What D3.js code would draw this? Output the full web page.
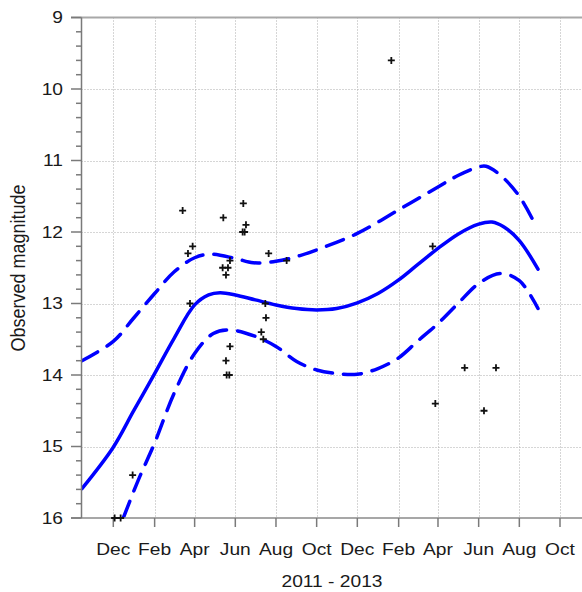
<!DOCTYPE html>
<html>
<head>
<meta charset="utf-8">
<script src="https://cdn.jsdelivr.net/npm/d3@7"></script>
<style>
  html, body { margin: 0; padding: 0; background: #fff; }
  svg { display: block; font-family: "Liberation Sans", Arial, sans-serif; }
</style>
</head>
<body>
<div id="chart"></div>
<script>
// tick labels
const tickMonths = ["2011-12-01", "2012-02-01", "2012-04-01", "2012-06-01", "2012-08-01", "2012-10-01",
                    "2012-12-01", "2013-02-01", "2013-04-01", "2013-06-01", "2013-08-01", "2013-10-01"];
const tickLabels = ["Dec", "Feb", "Apr", "Jun", "Aug", "Oct", "Dec", "Feb", "Apr", "Jun", "Aug", "Oct"];
const magTicks = [9, 10, 11, 12, 13, 14, 15, 16];

// observations [date, magnitude]
const obs = [
  ["2011-12-03", 16.0], ["2011-12-12", 16.0], ["2011-12-30", 15.4],
  ["2012-03-14", 11.7], ["2012-03-22", 12.3], ["2012-03-25", 13.0], ["2012-03-29", 12.2],
  ["2012-05-13", 12.5], ["2012-05-14", 11.8], ["2012-05-18", 13.8], ["2012-05-18", 12.6],
  ["2012-05-19", 14.0], ["2012-05-21", 12.5], ["2012-05-23", 14.0], ["2012-05-24", 12.4],
  ["2012-05-24", 13.6], ["2012-06-12", 12.0], ["2012-06-13", 11.6], ["2012-06-15", 12.0],
  ["2012-06-17", 11.9], ["2012-07-10", 13.4], ["2012-07-13", 13.5], ["2012-07-16", 13.0],
  ["2012-07-17", 13.2], ["2012-07-21", 12.3], ["2012-08-17", 12.4],
  ["2013-01-21", 9.6], ["2013-03-24", 12.2], ["2013-03-28", 14.4],
  ["2013-05-11", 13.9], ["2013-06-09", 14.5], ["2013-06-27", 13.9]
];

// fitted curve and its two limits
const fitMid = [
  ["2011-10-15", 15.59], ["2011-12-01", 15.01], ["2011-12-31", 14.51], ["2012-02-01", 13.98],
  ["2012-03-01", 13.49], ["2012-04-01", 13.02], ["2012-04-22", 12.88], ["2012-05-09", 12.85],
  ["2012-06-01", 12.88], ["2012-07-01", 12.95], ["2012-08-01", 13.02], ["2012-09-01", 13.07],
  ["2012-10-01", 13.09], ["2012-10-31", 13.07], ["2012-12-01", 12.99], ["2013-01-01", 12.86],
  ["2013-02-01", 12.67], ["2013-03-01", 12.46], ["2013-04-01", 12.23], ["2013-05-01", 12.03],
  ["2013-06-01", 11.89], ["2013-06-21", 11.86], ["2013-07-09", 11.93], ["2013-08-01", 12.12],
  ["2013-08-29", 12.52]
];
const fitUpper = [
  ["2011-10-15", 13.80], ["2011-12-01", 13.53], ["2011-12-31", 13.21], ["2012-02-01", 12.86],
  ["2012-03-01", 12.56], ["2012-04-01", 12.36], ["2012-04-25", 12.31], ["2012-06-01", 12.37],
  ["2012-06-28", 12.43], ["2012-08-01", 12.41], ["2012-09-06", 12.33], ["2012-10-01", 12.25],
  ["2012-12-01", 12.02], ["2013-02-01", 11.69], ["2013-04-01", 11.37], ["2013-05-01", 11.21],
  ["2013-06-01", 11.09], ["2013-06-12", 11.08], ["2013-07-03", 11.20], ["2013-08-01", 11.50],
  ["2013-08-24", 11.88]
];
const fitLower = [
  ["2011-12-16", 16.0], ["2012-01-07", 15.48], ["2012-02-01", 14.95], ["2012-03-01", 14.26],
  ["2012-04-01", 13.70], ["2012-04-29", 13.42], ["2012-05-24", 13.37], ["2012-07-01", 13.46],
  ["2012-08-01", 13.60], ["2012-09-01", 13.81], ["2012-10-01", 13.93], ["2012-10-31", 13.98],
  ["2012-12-01", 13.99], ["2013-01-01", 13.91], ["2013-02-01", 13.76], ["2013-03-01", 13.53],
  ["2013-04-01", 13.28], ["2013-05-01", 13.0], ["2013-06-01", 12.72], ["2013-07-03", 12.58],
  ["2013-08-01", 12.68], ["2013-08-29", 13.07]
];

const width = 582, height = 592;
const plotLeft = 81.5, plotTop = 17.5, plotBottom = 518, plotRight = 582;
const parse = d3.utcParse("%Y-%m-%d");
const sx = 1.2; // labels are horizontally stretched

const svg = d3.select("#chart").append("svg")
  .attr("width", width).attr("height", height);

const x = d3.scaleUtc()
  .domain([parse("2011-12-01"), parse("2013-10-01")])
  .range([113.3, 560]);
const y = d3.scaleLinear().domain([9, 16]).range([plotTop, plotBottom]);

// grid
const grid = svg.append("g").attr("stroke", "#adadad").attr("stroke-width", 1)
  .attr("stroke-dasharray", "1,2");
grid.selectAll("line.h").data(magTicks.slice(1, -1)).enter().append("line")
  .attr("x1", plotLeft).attr("x2", plotRight)
  .attr("y1", d => Math.round(y(d)) + 0.5).attr("y2", d => Math.round(y(d)) + 0.5);
grid.selectAll("line.v").data(tickMonths).enter().append("line")
  .attr("x1", d => Math.round(x(parse(d))) + 0.5).attr("x2", d => Math.round(x(parse(d))) + 0.5)
  .attr("y1", plotTop).attr("y2", plotBottom);

// fitted lines
svg.append("clipPath").attr("id", "plot").append("rect")
  .attr("x", plotLeft).attr("y", plotTop)
  .attr("width", plotRight - plotLeft).attr("height", plotBottom - plotTop);

const line = d3.line()
  .x(d => x(parse(d[0])))
  .y(d => y(d[1]))
  .curve(d3.curveCatmullRom.alpha(0.5));

const curves = svg.append("g").attr("clip-path", "url(#plot)")
  .attr("fill", "none").attr("stroke", "#0000ff").attr("stroke-width", 3.5)
  .attr("stroke-linecap", "round").attr("stroke-linejoin", "round");
curves.append("path").attr("d", line(fitMid));
curves.append("path").attr("d", line(fitUpper)).attr("stroke-dasharray", "18,11");
curves.append("path").attr("d", line(fitLower)).attr("stroke-dasharray", "18,11");

// frame and axes
svg.append("line").attr("x1", 71).attr("x2", plotRight).attr("y1", plotTop).attr("y2", plotTop)
  .attr("stroke", "#a8a8a8").attr("stroke-width", 2);
svg.append("line").attr("x1", 71).attr("x2", plotRight).attr("y1", plotBottom).attr("y2", plotBottom)
  .attr("stroke", "#8a8a8a").attr("stroke-width", 1.5);
svg.append("line").attr("x1", plotLeft).attr("x2", plotLeft).attr("y1", plotTop).attr("y2", plotBottom)
  .attr("stroke", "#7a7a7a").attr("stroke-width", 1.5);

// y ticks, minor every 0.2
svg.append("g").selectAll("line").data(y.ticks(35)).enter().append("line")
  .attr("x1", d => Math.abs(d - Math.round(d)) < 1e-6 ? 71 : 76)
  .attr("x2", plotLeft)
  .attr("y1", d => y(d)).attr("y2", d => y(d))
  .attr("stroke", "#7a7a7a").attr("stroke-width", 1.5);

svg.append("g").selectAll("text").data(magTicks).enter().append("text")
  .attr("transform", d => `translate(63,${y(d)}) scale(${sx},1)`)
  .attr("dy", "0.36em").attr("text-anchor", "end")
  .attr("font-size", 16).attr("fill", "#1a1a1a")
  .text(d => d);

// x ticks
svg.append("g").selectAll("line").data(tickMonths).enter().append("line")
  .attr("x1", d => x(parse(d))).attr("x2", d => x(parse(d)))
  .attr("y1", plotBottom).attr("y2", plotBottom + 9)
  .attr("stroke", "#7a7a7a").attr("stroke-width", 1.5);

svg.append("g").selectAll("text").data(tickMonths).enter().append("text")
  .attr("transform", d => `translate(${x(parse(d))},555) scale(${sx},1)`)
  .attr("text-anchor", "middle").attr("font-size", 16).attr("fill", "#1a1a1a")
  .text((d, i) => tickLabels[i]);

// axis titles
svg.append("text")
  .attr("transform", `translate(332,587) scale(${sx},1)`)
  .attr("text-anchor", "middle").attr("font-size", 16).attr("fill", "#1a1a1a")
  .text("2011 - 2013");

svg.append("text")
  .attr("transform", `translate(25,268) scale(1.1,1) rotate(-90)`)
  .attr("text-anchor", "middle").attr("font-size", 18).attr("fill", "#1a1a1a")
  .text("Observed magnitude");

// observations
svg.append("g").selectAll("path").data(obs).enter().append("path")
  .attr("transform", d => `translate(${x(parse(d[0]))},${y(d[1])})`)
  .attr("d", "M-3.5,0H3.5M0,-3.5V3.5")
  .attr("stroke", "#111").attr("stroke-width", 1.8).attr("fill", "none");
</script>
</body>
</html>
